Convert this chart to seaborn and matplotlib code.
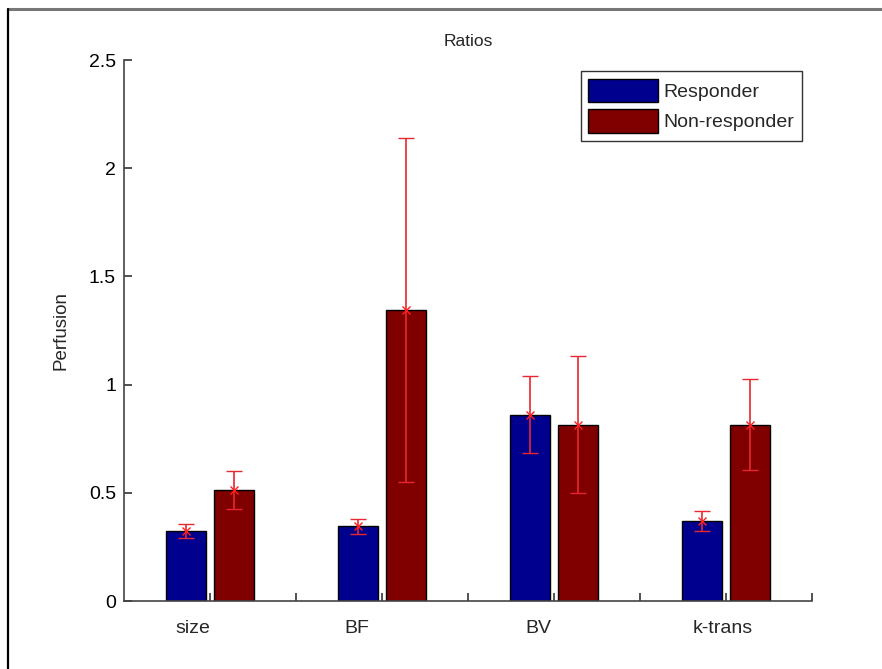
import numpy as np
import pandas as pd
import matplotlib
matplotlib.use("Agg")
import matplotlib.pyplot as plt
import seaborn as sns
from matplotlib.lines import Line2D
from matplotlib.patches import Patch
from matplotlib.transforms import blended_transform_factory

# data
categories = ["size", "BF", "BV", "k-trans"]
groups = ["Responder", "Non-responder"]
responder = [0.325, 0.345, 0.86, 0.37]
nonresponder = [0.515, 1.345, 0.815, 0.815]
responder_err = [0.033, 0.035, 0.178, 0.045]
nonresponder_err = [0.088, 0.795, 0.315, 0.21]
label_shift = [-0.10, -0.15, -0.09, -0.02]  # tick text sits a bit left of the group centre
palette = {"Responder": "#00008f", "Non-responder": "#800000"}

df = pd.DataFrame({
    "category": categories * 2,
    "group": [groups[0]] * 4 + [groups[1]] * 4,
    "value": responder + nonresponder,
    "err": responder_err + nonresponder_err,
})

sns.set_theme(style="white")
plt.rcParams["font.family"] = ["Liberation Sans", "DejaVu Sans"]
plt.rcParams["xtick.direction"] = "in"
plt.rcParams["ytick.direction"] = "in"

fig = plt.figure(figsize=(8.82, 6.69), dpi=100)
ax = fig.add_axes([0.141, 0.1016, 0.78, 0.8087])

sns.barplot(data=df, x="category", y="value", hue="group", order=categories,
            hue_order=groups, palette=palette, width=0.56, gap=0.17,
            edgecolor="black", linewidth=1.0, saturation=1, errorbar=None,
            legend=False, ax=ax)

# error bars at the bar centres
bars = [p for p in ax.patches if p.get_height() > 0]
for g in groups:
    sub = df[df["group"] == g]
    rgb = matplotlib.colors.to_rgb(palette[g])
    gbars = sorted([b for b in bars if np.allclose(b.get_facecolor()[:3], rgb)],
                   key=lambda b: b.get_x())
    xs = [b.get_x() + b.get_width() / 2 for b in gbars]
    ax.errorbar(xs, sub["value"], yerr=sub["err"], fmt="x", color="#ff2020",
                ecolor="#e8282e", elinewidth=1.2, capsize=6, capthick=1.2,
                markersize=6, markeredgewidth=1.0, zorder=5)

ax.set_xlim(-0.5, 3.5)
ax.set_ylim(0, 2.5)
ax.set_yticks(np.arange(0, 2.51, 0.5))
ax.set_yticklabels(["0", "0.5", "1", "1.5", "2", "2.5"])
ax.set_xticks(np.arange(0, 3.51, 0.5))
ax.set_xticklabels([])
ax.tick_params(axis="both", direction="in", length=6, width=1.2, colors="#333333",
               labelcolor="black", labelsize=14, left=True, bottom=True, pad=6)
for s in ["top", "right"]:
    ax.spines[s].set_visible(False)
for s in ["left", "bottom"]:
    ax.spines[s].set_color("#444444")
    ax.spines[s].set_linewidth(1.2)

tr = blended_transform_factory(ax.transData, ax.transAxes)
for i, (c, sh) in enumerate(zip(categories, label_shift)):
    ax.text(i + sh, -0.05, c, transform=tr, ha="center", va="center", fontsize=14)

ax.set_xlabel("")
ax.set_ylabel("Perfusion", fontsize=13.5, labelpad=14)
ax.set_title("Ratios", fontsize=12.5, pad=10)

handles = [Patch(facecolor=palette[g], edgecolor="black", label=g) for g in groups]
leg = ax.legend(handles=handles, loc="upper right", bbox_to_anchor=(0.985, 0.98),
                fontsize=14, frameon=True, fancybox=False, edgecolor="black",
                handlelength=3.6, handleheight=1.5, handletextpad=0.25,
                borderpad=0.4, labelspacing=0.35, borderaxespad=0)
leg.get_frame().set_linewidth(1.0)

# outer frame pieces seen in the reference
fig.add_artist(Line2D([8 / 882, 1], [1 - 9 / 669, 1 - 9 / 669], transform=fig.transFigure,
                      color="#777777", linewidth=2.2))
fig.add_artist(Line2D([8 / 882, 8 / 882], [0, 1 - 9 / 669], transform=fig.transFigure,
                      color="black", linewidth=1.6))

fig.savefig("out.png", dpi=100)
